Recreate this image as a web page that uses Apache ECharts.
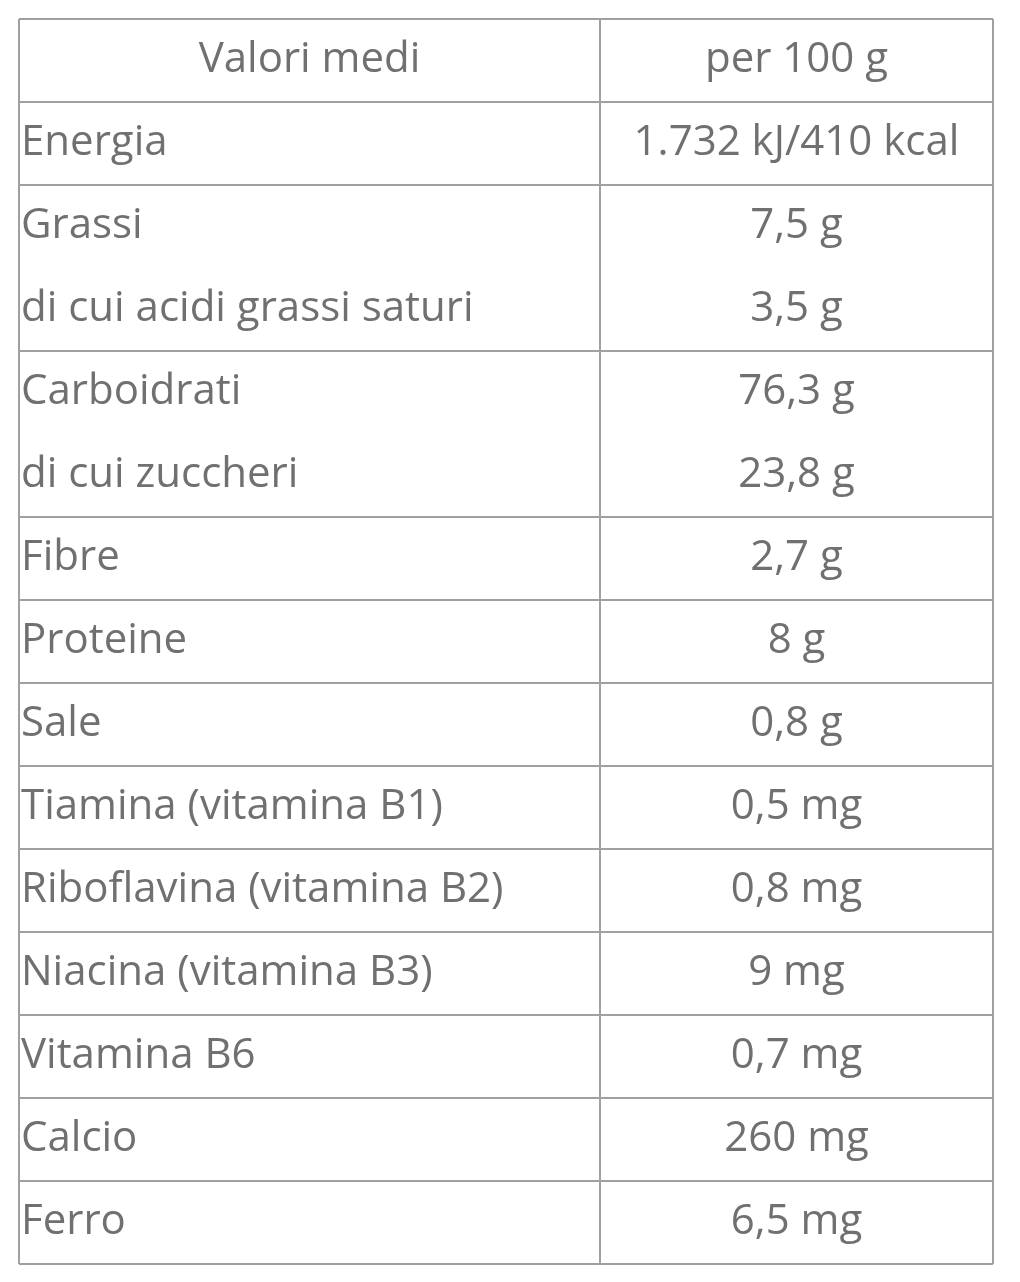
<!DOCTYPE html>
<html><head><meta charset="utf-8">
<script src="https://cdn.jsdelivr.net/npm/echarts@6/dist/echarts.min.js"></script>
<style>html,body{margin:0;background:#fff}#c{width:1020px;height:1282px}</style>
</head><body><div id="c"></div>
<script>
// table content
const header = ['Valori medi', 'per 100 g'];
const labels = ['Energia', 'Grassi', 'di cui acidi grassi saturi', 'Carboidrati', 'di cui zuccheri',
  'Fibre', 'Proteine', 'Sale', 'Tiamina (vitamina B1)', 'Riboflavina (vitamina B2)',
  'Niacina (vitamina B3)', 'Vitamina B6', 'Calcio', 'Ferro'];
const values = ['1.732 kJ/410 kcal', '7,5 g', '3,5 g', '76,3 g', '23,8 g', '2,7 g', '8 g', '0,8 g',
  '0,5 mg', '0,8 mg', '9 mg', '0,7 mg', '260 mg', '6,5 mg'];
const groupSizes = [1, 2, 2, 1, 1, 1, 1, 1, 1, 1, 1, 1];

const tLeft = 19, tRight = 993, tTop = 19, tMid = 600, lineH = 83;
const color = '#707070', border = '#a0a0a0';
const font = '42px "Open Sans"';
const g = [];

function line(x1, y1, x2, y2) {
  g.push({type: 'line', shape: {x1, y1, x2, y2}, style: {stroke: border, lineWidth: 2}});
}
function text(t, x, y, align) {
  g.push({type: 'text', x, y, style: {text: t, font, fill: color, align, verticalAlign: 'middle'}});
}

text(header[0], (tLeft + tMid) / 2, tTop + lineH / 2, 'center');
text(header[1], (tMid + tRight) / 2, tTop + lineH / 2, 'center');
let y = tTop + lineH;
line(tLeft, tTop, tRight, tTop);
line(tLeft, y, tRight, y);
let i = 0;
groupSizes.forEach(n => {
  for (let k = 0; k < n; k++, i++) {
    const cy = y + lineH * k + lineH / 2;
    text(labels[i], tLeft + 2, cy, 'left');
    text(values[i], (tMid + tRight) / 2, cy, 'center');
  }
  y += lineH * n;
  line(tLeft, y, tRight, y);
});
line(tLeft, tTop, tLeft, y);
line(tMid, tTop, tMid, y);
line(tRight, tTop, tRight, y);

const chart = echarts.init(document.getElementById('c'));
chart.setOption({graphic: g});
</script></body></html>
